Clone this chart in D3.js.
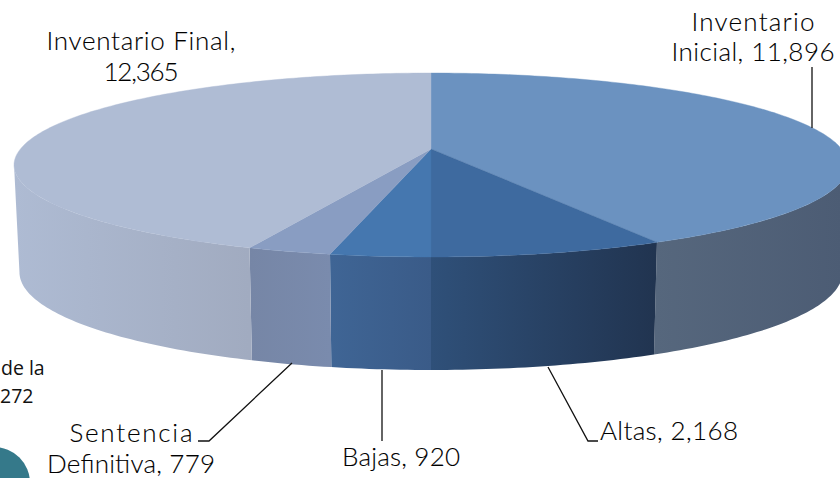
<!DOCTYPE html>
<html>
<head>
<meta charset="utf-8">
<script src="https://cdn.jsdelivr.net/npm/d3@7"></script>
<style>
  html, body { margin: 0; padding: 0; background: #fff; overflow: hidden; }
  svg { display: block; }
  .lbl { font-family: Lato, sans-serif; font-weight: 300; font-size: 26px; fill: #000; stroke: #000; stroke-width: 0.1px; }
  .cut { font-family: "Open Sans", sans-serif; font-size: 19.5px; fill: #111; }
</style>
</head>
<body>
<div id="chart"></div>
<script>
const categories = ['Inventario Inicial', 'Altas', 'Bajas', 'Sentencia Definitiva', 'Inventario Final'];
const values = [11896, 2168, 920, 779, 12365];

const topColors = ['#6b92c0', '#3e6a9f', '#4577af', '#899dc2', '#afbcd4'];
const sideFrom = ['#56677d', '#2f5079', '#3f6595', '#7a8bad', '#a1abc0'];
const sideTo = ['#4c5c74', '#213450', '#3a5b88', '#7686a6', '#aebbd3'];

const width = 840;
const height = 478;

const svg = d3.select('#chart').append('svg')
  .attr('width', width)
  .attr('height', height);

// pie is tilted with some perspective, front edge looks bigger than the back
const cx = 431, cy = 149;
const R = 410.6, b = 89.2, k = 0.174;

// angles where the rim turns away from the viewer
const frontStart = Math.acos(-k);
const frontEnd = 2 * Math.PI - frontStart;

function project(a, down) {
  const u = Math.sin(a), v = -Math.cos(a), d = 1 - k * v;
  const depth = down ? 106 + 7 * v : 0;
  const shrink = down ? 0.987 : 1;
  return [cx + R * u / d * shrink, cy + b * v / d + depth];
}

function arcPoints(a0, a1, down) {
  const n = Math.max(2, Math.ceil((a1 - a0) * 60));
  return d3.range(n + 1).map(i => project(a0 + (a1 - a0) * i / n, down));
}

const pie = d3.pie().sort(null).value(d => d)(values);
const line = d3.line();

// x range of each rim gradient, start colour at x1
const gradX = [[656, 842], [431, 656], [330, 431], [330, 250], [249, 14]];

const defs = svg.append('defs');
pie.forEach((s, i) => {
  const g = defs.append('linearGradient')
    .attr('id', 'side' + i)
    .attr('gradientUnits', 'userSpaceOnUse')
    .attr('x1', gradX[i][0]).attr('x2', gradX[i][1])
    .attr('y1', 0).attr('y2', 0);
  g.append('stop').attr('offset', 0).attr('stop-color', sideFrom[i]);
  g.append('stop').attr('offset', 1).attr('stop-color', sideTo[i]);
});

function rim(d) {
  const a0 = Math.max(d.startAngle, frontStart);
  const a1 = Math.min(d.endAngle, frontEnd);
  return line(arcPoints(a0, a1, false).concat(arcPoints(a0, a1, true).reverse())) + 'Z';
}

svg.append('g').selectAll('path')
  .data(pie)
  .join('path')
  .attr('fill', (d, i) => `url(#side${i})`)
  .attr('d', rim);

svg.append('g').selectAll('path')
  .data(pie)
  .join('path')
  .attr('fill', (d, i) => topColors[i])
  .attr('stroke', (d, i) => topColors[i])
  .attr('stroke-width', 0.4)
  .attr('d', d => line([[cx, cy]].concat(arcPoints(d.startAngle, d.endAngle, false))) + 'Z');

// leader lines
const leaders = [
  [[812, 67], [812, 128]],
  [[548, 367], [588, 441], [598, 441]],
  [[382, 370], [382, 441]],
  [[292, 363], [209, 441], [198, 441]]
];
svg.append('g').selectAll('path')
  .data(leaders)
  .join('path')
  .attr('fill', 'none')
  .attr('stroke', '#111')
  .attr('stroke-width', 1.3)
  .attr('d', line);

function fmt(i) { return d3.format(',')(values[i]); }

// w is the width each line takes up in the picture
const labels = [
  { lines: ['Inventario', `Inicial, ${fmt(0)}`], x: 753, y: [31, 61], w: [123, 163] },
  { lines: [`Altas, ${fmt(1)}`], x: 669, y: [440], w: [138] },
  { lines: [`Bajas, ${fmt(2)}`], x: 401, y: [466], w: [118] },
  { lines: ['Sentencia', `Definitiva, ${fmt(3)}`], x: 131, y: [442, 473], w: [123, 168] },
  { lines: ['Inventario Final,', fmt(4)], x: 141, y: [50, 81], w: [189, 75] }
];
labels.forEach(l => {
  l.lines.forEach((t, j) => {
    svg.append('text').attr('class', 'lbl')
      .attr('x', l.x).attr('y', l.y[j])
      .attr('text-anchor', 'middle')
      .attr('textLength', l.w[j])
      .attr('lengthAdjust', 'spacing')
      .text(t);
  });
});

// leftovers of the slide behind the chart, cut off by the crop
svg.append('text').attr('class', 'cut').attr('x', 1).attr('y', 375).text('de la');
svg.append('text').attr('class', 'cut').attr('x', 0).attr('y', 403).text('272');
svg.append('circle').attr('cx', -6).attr('cy', 483).attr('r', 36).attr('fill', '#35798a');
</script>
</body>
</html>
